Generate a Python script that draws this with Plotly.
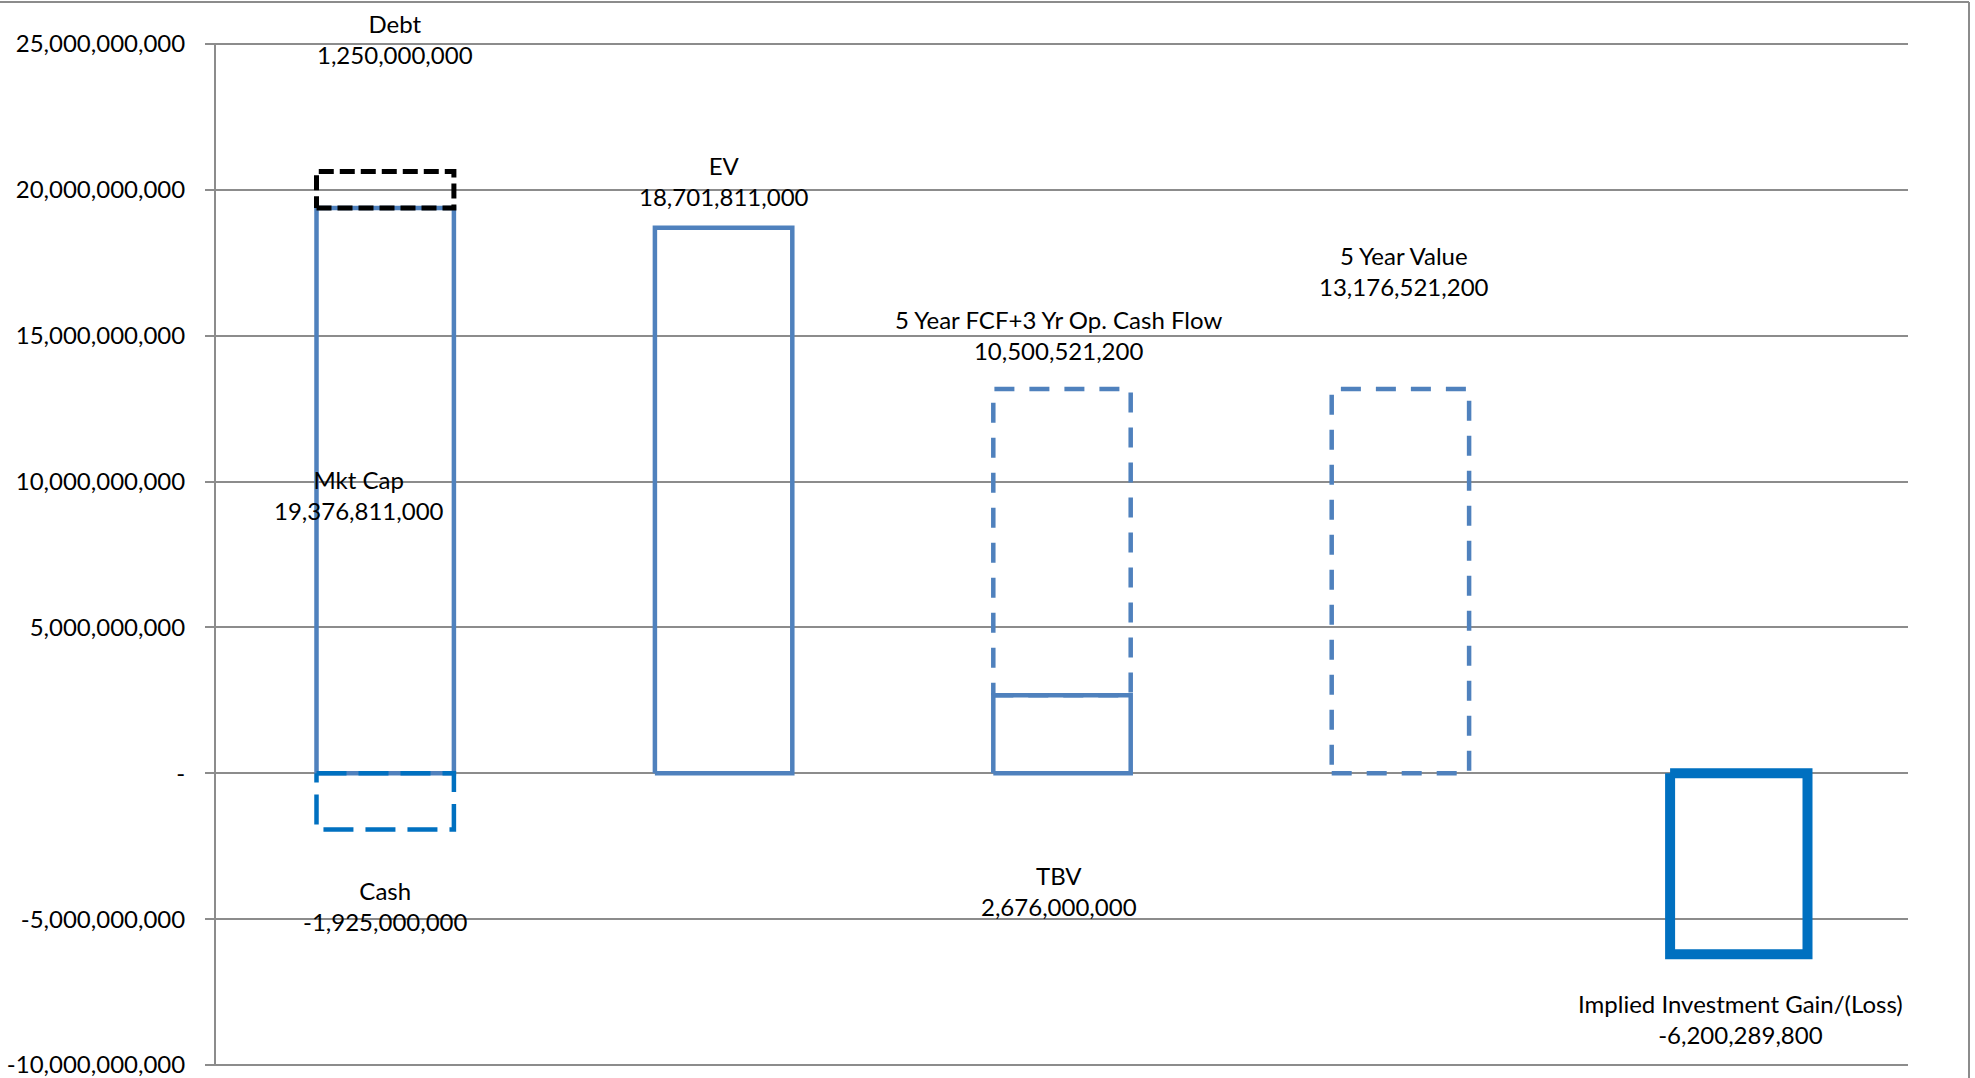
import plotly.graph_objects as go

# ---------------- data ----------------
categories = ["Mkt Cap / Debt / Cash", "EV", "5 Year FCF+3 Yr Op. Cash Flow / TBV",
              "5 Year Value", "Implied Investment Gain/(Loss)"]
mkt_cap = 19376811000
debt = 1250000000
cash = -1925000000
ev = 18701811000
tbv = 2676000000
fcf_op_cash = 10500521200
five_year_value = 13176521200
implied_gain = -6200289800

y_tick_vals = [-10e9, -5e9, 0, 5e9, 10e9, 15e9, 20e9, 25e9]
y_tick_text = ["-10,000,000,000", "-5,000,000,000", "-", "5,000,000,000",
               "10,000,000,000", "15,000,000,000", "20,000,000,000", "25,000,000,000"]

# ---------------- styles ----------------
BLUE = "#4F81BD"
DBLUE = "#0070C0"
GRID = "#8C8C8C"
FONT = "Lato"
FSIZE = 24
HALF = 0.203  # half bar width in category units
Y_MIN, Y_MAX = -10e9, 25e9

# segments: (category index, base, value, color, width, dash)
segments = [
    (0, 0, mkt_cap, BLUE, 4.5, "solid"),
    (0, mkt_cap, debt, "#000000", 5, "15px,6px"),
    (0, 0, cash, DBLUE, 4.5, "30px,12px"),
    (1, 0, ev, BLUE, 4.5, "solid"),
    (2, 0, tbv, BLUE, 4.5, "solid"),
    (2, tbv, fcf_op_cash, BLUE, 4.5, "20px,15px"),
    (3, 0, five_year_value, BLUE, 4.5, "20px,15px"),
    (4, 0, implied_gain, DBLUE, 10, "solid"),
]

fig = go.Figure()
for idx, base, val, color, width, dash in segments:
    x0, x1 = idx - HALF, idx + HALF
    y0, y1 = base, base + val
    fig.add_trace(go.Scatter(
        x=[x0, x1, x1, x0, x0], y=[y0, y0, y1, y1, y0],
        mode="lines", line=dict(color=color, width=width, dash=dash),
        hoverinfo="skip", showlegend=False))

def fmt(v):
    return f"{v:,.0f}"

def to_paper_y(v):
    return (v - Y_MIN) / (Y_MAX - Y_MIN)

# labels: (name, value, category index, x offset, y position in data units)
labels = [
    ("Debt", debt, 0, 0.03, 25.17e9),
    ("Mkt Cap", mkt_cap, 0, -0.076, 9.555e9),
    ("Cash", cash, 0, 0.0, -4.555e9),
    ("EV", ev, 1, 0.0, 20.29e9),
    ("5 Year FCF+3 Yr Op. Cash Flow", fcf_op_cash, 2, -0.01, 15.03e9),
    ("TBV", tbv, 2, -0.01, -4.03e9),
    ("5 Year Value", five_year_value, 3, 0.01, 17.23e9),
    ("Implied Investment Gain/(Loss)", implied_gain, 4, 0.005, -8.43e9),
]
annotations = []
for name, val, idx, dx, ypos in labels:
    annotations.append(dict(
        x=idx + dx, y=to_paper_y(ypos), xref="x", yref="paper",
        text=f"{name}<br>{fmt(val)}", showarrow=False,
        xanchor="center", yanchor="middle", align="center",
        font=dict(family=FONT, size=FSIZE, color="#000000")))

# layout geometry
L, R, T, B = 216, 67, 44, 13
W, H = 1975, 1078
pw, ph = W - L - R, H - T - B
def px_x(p):
    return (p - L) / pw
def px_y(p):
    return (H - B - p) / ph

shapes = [
    # chart border (top and right)
    dict(type="line", xref="paper", yref="paper", x0=px_x(0), x1=px_x(1969),
         y0=px_y(2), y1=px_y(2), line=dict(color=GRID, width=2)),
    dict(type="line", xref="paper", yref="paper", x0=px_x(1969), x1=px_x(1969),
         y0=px_y(2), y1=px_y(1078), line=dict(color=GRID, width=2)),
]
# gridlines at the range edges (Plotly omits them)
for p in (0, 1):
    shapes.append(dict(type="line", xref="paper", yref="paper", x0=px_x(L - 9), x1=1,
                       y0=p, y1=p, line=dict(color=GRID, width=2), layer="below"))

fig.update_layout(
    width=W, height=H,
    margin=dict(l=L, r=R, t=T, b=B, autoexpand=False),
    paper_bgcolor="white", plot_bgcolor="white",
    font=dict(family=FONT, size=FSIZE, color="#000000"),
    annotations=annotations, shapes=shapes,
    hovermode=False, showlegend=False,
)
fig.update_xaxes(range=[-0.5, 4.5], showticklabels=False, showgrid=False,
                 zeroline=False, showline=False, ticks="", automargin=False)
fig.update_yaxes(range=[Y_MIN, Y_MAX], tickvals=y_tick_vals, ticktext=y_tick_text,
                 showgrid=True, gridcolor=GRID, gridwidth=2, automargin=False,
                 zeroline=False, showline=True, linecolor=GRID, linewidth=2,
                 ticks="outside", ticklen=9, tickcolor=GRID, tickwidth=2,
                 ticklabelstandoff=15, ticklabeloverflow="allow",
                 tickfont=dict(family=FONT, size=FSIZE, color="#000000"))

fig.write_html("out.html")
